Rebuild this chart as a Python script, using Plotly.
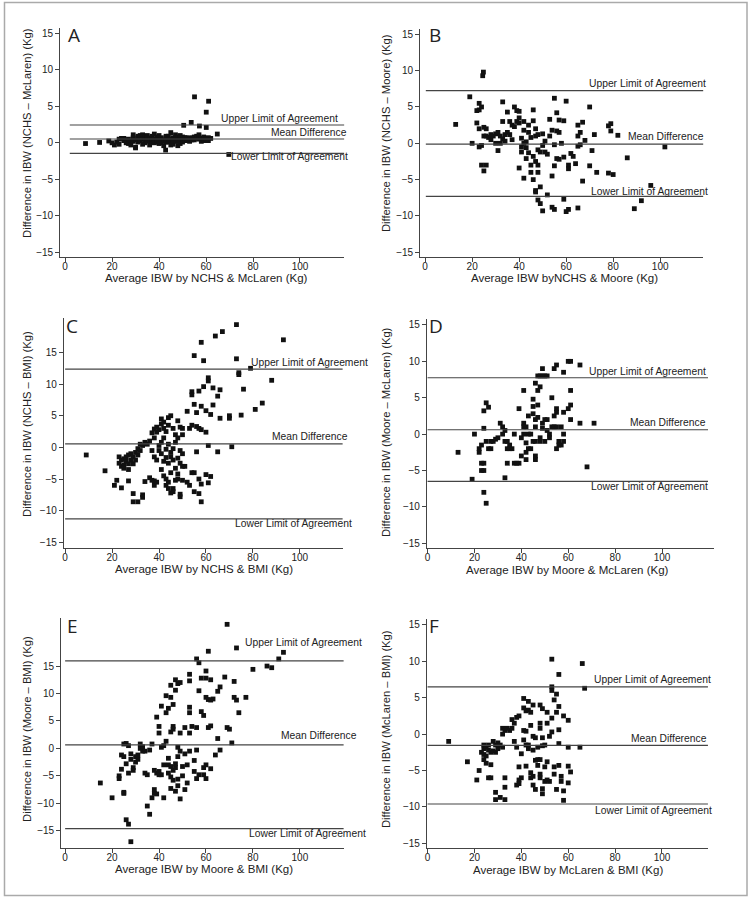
import plotly.graph_objects as go

# ---------------- data ----------------
a_pts = [(8.7,-0.1),(14.7,0.05),(18.6,0.25),(20,0.0),(21,-0.3),(22,0.1),(23,0.5),(23,-0.2),(24,0.6),(25,0.3),(25,0.6),(26,0.4),(26,0.0),
         (27,-0.1),(27,0.5),(28,0.2),(28,-0.3),(29,1.1),(29,0.7),(29,0.2),(30,-0.6),(30,0.4),(30,-0.7),(31,0.9),(31,0.1),(31,0.6),
         (32,1.0),(32,0.3),(33,1.1),(33,0.5),(33,-0.2),(34,0.0),(34,0.8),(34,0.4),(35,1.0),(35,0.3),(35,0.7),(36,0.6),(36,-0.3),(36,0.2),
         (37,0.9),(37,0.2),(37,0.5),(38,1.2),(38,0.5),(38,0.0),(39,0.1),(39,0.8),(39,0.4),(40,1.0),(40,0.4),(40,-0.1),(41,0.7),(41,0.0),
         (41,0.4),(42,0.3),(42,-0.4),(42.8,-1.0),(43,0.5),(43,0.1),(43,0.9),(44,0.1),(44,0.9),(44,0.5),(45,1.4),(45,0.3),(45,-0.3),
         (46,-0.2),(46,0.7),(46,0.3),(47,1.1),(47,0.2),(47,0.6),(48,-0.4),(48,0.8),(48,0.2),(49,0.4),(49,1.0),(49,-0.1),(50,0.5),(50,0.1),
         (50,0.8),(51,0.7),(51,0.3),(52,0.3),(52,0.7),(53,0.6),(53,0.2),(54,0.4),(54,0.7),(55,0.8),(55,0.4),(56,0.9),(56,0.6),(57,1.1),
         (57,0.5),(58,0.2),(58,0.6),(59,0.8),(59,0.3),(60,0.5),(61,0.7),(61,0.3),(62,0.6),
         (55.1,6.3),(61.1,5.7),(60.1,4.2),(53.7,2.8),(50.5,2.4),(57.2,2.3),(60.1,2.1),(64.8,1.2),(69.7,-1.6)]

b_pts = [(13,2.6),(19,6.4),(20,0.0),(22,2.8),(22,4.5),(23,5.5),(23,4.6),(23,2.0),(24,5.0),(23,-0.5),(24,-0.3),(24.5,9.3),(24.8,9.8),
         (24,-3.0),(25,-3.8),(26,-3.0),(25,1.0),(25,2.2),(26,2.0),(26,1.0),(27,0.8),(28,1.2),(28,0.5),(29,1.0),(30,0.0),(30,1.3),
         (31,-1.0),(31,1.5),(32,0.0),(32,1.0),(33,5.7),(33,3.0),(33,0.6),(34,1.2),(34,0.3),(35,4.3),(35,1.5),(36,3.0),(36,1.2),
         (37,2.5),(37,0.5),(38,5.0),(38,2.3),(39,3.0),(39,4.5),(40,4.4),(40,3.5),(40,2.8),(40,-3.4),(41,0.7),(41,-0.5),(41,-1.2),
         (42,0.0),(42,-4.8),(42,1.8),(42,3.0),(43,0.2),(43,-0.6),(43,-2.1),(44,2.5),(44,1.5),(44,-1.3),(45,0.8),(45,-3.0),(45,-4.0),
         (46,3.1),(46,4.6),(46,-1.8),(46,-5.0),(47,1.0),(47,-2.5),(47,-6.5),(47,-6.7),(47,2.0),(48,-3.0),(48,-4.0),(48,1.2),(48,-0.9),
         (48,-7.8),(49,-6.0),(49,-8.3),(49,-1.2),(50,-9.3),(50,1.3),(50,-0.3),(51,-1.2),(51,0.3),(52,-1.5),(52,-7.1),(53,3.3),(53,1.0),
         (54,-4.5),(54,1.8),(54,-8.8),(55,6.2),(55,-0.2),(55,-9.1),(55,-3.1),(56,4.2),(56,-2.1),(56,1.7),(57,3.2),(57,-2.2),(57,1.5),
         (58,0.0),(59,-7.7),(59,-1.9),(59,3.1),(60,-9.4),(60,5.8),(61,-3.0),(61,-3.5),(61,-9.1),(62,-1.4),(63,-1.8),(64,-2.8),(65,2.5),
         (65,1.0),(65,-0.4),(65,-8.9),(66,1.5),(66,-0.2),(67,2.9),(67,-5.2),(68,0.4),(70,5.0),(70,-3.1),(71,-1.0),(72,1.2),(73,-4.0),
         (78,2.4),(78,-4.1),(79,2.7),(79,1.7),(80,-4.3),(82,1.1),(86,-2.0),(89,-9.0),(92,-7.9),(96,-5.8),(102,-0.5)]

c_pts = [(9,-1.2),(17,-3.7),(21,-6.0),(22,-5.2),(24,-6.4),(27,-5.3),(29,-8.6),(31,-8.6),(29,-7.3),(33,-7.5),(33,-7.9),(34,-5.4),
         (23,-1.5),(23,-2.5),(24,-2.0),(24,-3.0),(25,-1.8),(25,-2.8),(25,-3.3),(26,-2.2),(26,-1.5),(27,-2.6),(27,-3.5),(27,-1.2),
         (28,-2.0),(28,-1.0),(29,-2.6),(29,-1.5),(30,-0.8),(30,-2.0),(31,-0.2),(31,-1.2),(32,0.5),(32,-0.5),(33,0.3),(34,0.8),(35,0.5),
         (36,1.0),(37,2.3),(37,-0.5),(38,2.9),(38,1.5),(39,3.2),(39,2.4),(40,2.8),(41,4.5),(41,3.7),(42,4.0),(42,3.0),(43,2.5),(44,4.7),
         (44,3.5),(45,5.0),(46,3.0),(47,2.0),
         (38,-1.5),(39,-2.0),(40,-0.5),(40,0.3),(41,-1.0),(41,0.8),(42,-2.2),(42,1.5),(43,-0.3),(43,-1.6),(44,0.5),(44,-2.5),(45,-0.8),
         (45,-1.5),(46,-2.0),(46,-0.2),(47,-3.3),(47,0.8),(48,-1.7),(48,1.5),(49,-2.5),(49,-0.5),(50,-1.0),(50,-3.0),(51,-3.0),
         (36,-4.8),(37,-5.2),(38,-6.0),(38,-5.3),(39,-5.5),(41,-3.5),(42,-4.5),(43,-5.0),(43,-6.0),(44,-6.5),(44,-5.5),(45,-7.2),
         (45,-4.0),(46,-7.0),(46,-6.5),(47,-5.2),(48,-4.2),(48,-5.0),(49,-7.8),(49,-7.4),(50,-5.2),(52,-5.5),(53,-6.0),(54,-4.0),
         (55,-7.0),(55,-4.0),(57,-5.0),(57,-7.3),(58,-8.6),(58,-5.8),(60,-4.3),(61,-5.6),(62,-4.6),
         (48,4.2),(49,3.2),(50,3.0),(50,2.0),(52,5.7),(53,3.0),(54,3.5),(54,8.8),(54,8.3),(55,6.8),(55,14.5),(56,3.3),(56,5.5),
         (56,-0.7),(57,8.9),(57,3.0),(58,16.6),(58,6.5),(58,2.8),(59,9.6),(59,13.7),(60,5.8),(60,2.4),(61,11.0),(61,10.5),(61,0.3),
         (62,5.2),(63,9.4),(63,6.7),(64,17.6),(65,8.1),(65,-0.7),(66,9.1),(66,4.6),(67,18.3),(70,5.0),(70,4.6),(71,0.1),(73,19.4),
         (73,14.0),(74,11.8),(74,11.5),(75,5.1),(76,9.2),(79,12.5),(81,6.0),(84,7.0),(88,10.6),(93,17.0)]

d_pts = [(13,-2.5),(19,-6.2),(20,0),(22,-2.5),(22,-2),(23,-1.5),(23,-4),(23,-5),(24,-4),(24,-5),(24,0.8),(24,-8),(25,-9.5),(24,3.2),
         (25,4.3),(26,3.7),(25,-1),(26,-2),(27,-2),(27,-1),(28,-1),(29,-0.7),(30,-0.5),(31,1.5),(32,1),(32,0),(33,-1),(33,0.5),(33,-6),
         (34,-2),(34,-1),(34,-4),(35,-1.5),(35,-2),(36,-2),(37,-4),(37,0),(38,-4),(39,-4),(39,3.5),(40,-3),(40,-0.5),(41,6),(41,1.5),
         (41,1),(41,0),(42,-1.2),(42,-2.5),(42,-3.5),(42,1),(43,2.5),(43,0),(43,-2),(44,0),(44,-2),(45,3.8),(45,2.8),(45,-1),(45,4.8),
         (46,7),(46,2),(46,1),(46,-3.5),(46,-3),(46,-1),(47,6),(47,8),(47,4),(47,2.3),(48,6.5),(48,8),(48,-0.5),(48,-1),(49,9),(49,8),
         (49,1.5),(49,0.8),(50,8),(50,2),(50,-1),(51,8),(51,2),(51,0.5),(52,0),(52,-0.5),(53,1),(53,5),(54,1),(54,9),(54,2.5),(55,9.5),
         (55,3.5),(55,3),(55,1),(55,-2),(56,-1),(56,-1.5),(57,1),(57,-1.5),(58,8.5),(58,3),(58,0),(58,-1),(60,10),(60,3.5),(61,10),
         (61,6),(61,4),(61,2),(65,9.5),(65,1.5),(68,-4.5),(71,1.5)]

e_pts = [(15,-6.3),(20,-9),(23,-5),(23,-5.5),(24,-3.8),(24,-1.2),(25,-1.5),(25,0.8),(25,-8),(25,-8.2),(26,-2.8),(26,0.9),(26,-13),
         (27,-4.5),(27,0.5),(27,-13.8),(28,-1),(28,-17),(28,-2),(29,-3.5),(29,-4),(30,-1.5),(30,-2.5),(31,-2),(31,-1.2),(32,0.8),(32,0),
         (33,-0.5),(33,0.3),(34,-4.5),(34,-0.5),(35,-4.8),(35,-10.5),(36,-12),(36,-0.3),(37,0.8),(37,-9),(38,-4),(38,-7.5),(38,-8.2),
         (39,5.7),(39,-4.5),(39,-8.3),(40,4),(40,2.8),(40,-4.2),(40,-4.8),(41,7.7),(41,0.2),(41,-4.8),(42,0.5),(42,-9),(42,-3),(43,1.3),
         (43,9.6),(43,6.5),(44,7.3),(44,-1.8),(44,-4.5),(44,-3),(45,9.3),(45,11.5),(45,-3.3),(45,-7.3),(45,-5.2),(45,3),(46,4),(46,-5.8),
         (46,-4),(46,8),(46,3.5),(47,12.5),(47,10.6),(47,-3.5),(47,-2.8),(47,-7.8),(48,11.8),(48,-5.6),(48,-6.8),(48,0.2),(48,-1.5),
         (49,12),(49,2.8),(49,-9.2),(49,-0.5),(50,-3.3),(50,-5),(51,3.8),(51,-1),(51,-7.5),(52,-3),(52,-6.3),(53,12.3),(53,13.5),
         (53,7.5),(53,-0.5),(53,6.5),(53,2.8),(54,4),(55,-4.2),(55,-2.2),(56,16.3),(56,-0.3),(56,3.8),(56,-5.5),(57,15.6),(57,10.5),
         (57,-4.8),(58,6.7),(58,12.8),(59,-3.5),(59,-4.8),(59,6),(60,14.1),(60,12.8),(60,9.3),(60,-5.5),(60,-3),(61,8.9),(61,3.8),
         (61,17.7),(62,12.5),(62,4.1),(62,-3.7),(62,8.8),(63,9),(64,-1.2),(65,10.4),(65,1.8),(66,11.2),(66,-0.3),(68,13),(69,22.6),
         (69,3.8),(70,3.5),(71,1),(72,12.2),(72,9.3),(73,8.8),(73,18.3),(74,6.5),(77,9.3),(80,14.4),(86,15),(88,14.7),(91,16.3),(93,17.5)]

f_pts = [(9,-1),(17,-3.8),(21,-6.3),(22,-5),(23,-2.5),(24,-1.5),(24,-2),(24,-2.8),(24,-3.5),(25,-1.8),(25,-3),(25,-4),(26,-6),
         (26,-2.2),(26,-1.5),(27,-2.5),(27,-4.2),(27,-6),(28,-1),(28,-2.3),(29,-9),(29,-8),(29,-1.5),(29,-2.5),(30,-1.2),(30,-2),
         (31,-8.7),(31,-1.5),(32,-1.8),(32,0.8),(32,0),(33,-6),(33,-7.3),(33,-9),(33,0.5),(34,0.8),(35,0.5),(36,2),(36,0.8),(37,-1),
         (37,1.5),(38,2.3),(38,-1.8),(38,-7),(39,-4.5),(39,-6.3),(39,-6.8),(39,2.5),(40,-2.7),(40,-6),(41,4.9),(41,3.6),(41,0.5),
         (41,-0.8),(42,3.2),(42,0.4),(42,-1.5),(42,-4.4),(43,4.5),(43,3.3),(43,-1.5),(43,-2),(44,3),(44,1.2),(44,-5.3),(44,-6),(45,4),
         (45,-0.3),(45,-2.2),(45,-5.8),(45,-7),(46,-0.5),(46,-3.6),(46,-7.6),(47,-1.8),(47,-3.5),(47,-4.3),(48,4),(48,1.5),(48,0.8),
         (48,-3.5),(48,-5.5),(48,-6),(49,3.5),(49,-1.6),(49,-0.5),(49,-7.5),(49,-8.2),(50,-1.5),(50,-4.5),(50,-6.5),(51,3),(51,1.5),
         (51,-3.8),(51,-6.3),(52,-0.3),(52,-6.5),(53,10.3),(53,6.5),(53,6),(53,2.2),(53,0.3),(54,4.7),(54,-4.5),(54,-5.5),(55,5.5),
         (55,3),(55,-7.6),(56,8.2),(56,3.8),(56,0.6),(56,-1.3),(56,-4.3),(57,-5.8),(57,-6.5),(58,2.5),(58,-7.8),(58,-9.1),(60,1.9),
         (60,-1.8),(60,-4.4),(60,-6.7),(61,-5.2),(65,-1.8),(66,9.7),(67,6.3)]

# limits: (upper, mean, lower)
a_lim = (2.44, 0.52, -1.44)
b_lim = (7.25, -0.1, -7.3)
c_lim = (12.36, 0.55, -11.3)
d_lim = (7.75, 0.6, -6.5)
e_lim = (15.95, 0.65, -14.6)
f_lim = (6.5, -1.55, -9.6)

panel_letters = ["A", "B", "C", "D", "E", "F"]
x_titles = ["Average IBW by NCHS & McLaren (Kg)", "Average IBW byNCHS & Moore (Kg)",
            "Average IBW by NCHS & BMI (Kg)", "Average IBW by Moore & McLaren (Kg)",
            "Average IBW by Moore & BMI (Kg)", "Average IBW by McLaren & BMI (Kg)"]
y_titles = ["Difference in IBW (NCHS – McLaren) (Kg)", "Difference in IBW (NCHS – Moore) (Kg)",
            "Difference in IBW (NCHS – BMI) (Kg)", "Difference in IBW (Moore – McLaren) (Kg)",
            "Difference in IBW (Moore – BMI) (Kg)", "Difference in IBW (McLaren – BMI) (Kg)"]
limit_labels = ["Upper Limit of Agreement", "Mean Difference", "Lower Limit of Agreement"]
x_ticks = [0, 20, 40, 60, 80, 100]
y_ticks = [-15, -10, -5, 0, 5, 10, 15]

# ---------------- layout geometry (pixels) ----------------
W, H = 750, 900
FONT = "Liberation Sans, Arial, Helvetica, sans-serif"

panels = [
    dict(pts=a_pts, lim=a_lim, xpx=(58.3, 343.3), xr=(-2.1, 118.9), ypx=(28.3, 257.3), yr=(-15.7, 15.7), line_x0=2.0,
         ann=[(339, 6.7), (348, 6.3), (349, -3.4)], xt=(205, 278), yt=(25, 133), let=(64, 35)),
    dict(pts=b_pts, lim=b_lim, xpx=(419.3, 703.3), xr=(-2.1, 118.4), ypx=(29.3, 257.3), yr=(-15.69, 15.69), line_x0=0.3,
         ann=[(708, 7.4), (706, 7.3), (710, 5.3)], xt=(564, 278), yt=(385, 133), let=(426, 35)),
    dict(pts=c_pts, lim=c_lim, xpx=(62.0, 341.7), xr=(-0.55, 118.3), ypx=(318.3, 548.3), yr=(-15.95, 20.4), line_x0=0.0,
         ann=[(369, 7.0), (349, 7.3), (353, -5.0)], xt=(203, 569), yt=(25, 424), let=(62, 326)),
    dict(pts=d_pts, lim=d_lim, xpx=(426.0, 714.0), xr=(-0.3, 122.2), ypx=(319.0, 548.3), yr=(-15.69, 15.82), line_x0=0.0,
         ann=[(708, 6.3), (708, 7.7), (710, -5.0)], xt=(567, 570), yt=(385, 432), let=(426, 326)),
    dict(pts=e_pts, lim=e_lim, xpx=(59.3, 342.7), xr=(-1.7, 118.7), ypx=(618.3, 848.3), yr=(-18.2, 23.7), line_x0=0.0,
         ann=[(362.7, 18.3), (358.3, 9.0), (366.7, -4.6)], xt=(203, 869), yt=(25, 729), let=(63, 626)),
    dict(pts=f_pts, lim=f_lim, xpx=(426.0, 708.3), xr=(-0.3, 119.8), ypx=(619.0, 848.3), yr=(-15.69, 15.82), line_x0=0.0,
         ann=[(712.7, 7.4), (709.3, 7.0), (714, -6.7)], xt=(568, 870), yt=(385, 729), let=(426, 626)),
]

fig = go.Figure()
layout = dict(width=W, height=H, margin=dict(l=0, r=0, t=0, b=0), paper_bgcolor="white", plot_bgcolor="white",
              showlegend=False, font=dict(family=FONT, color="#222", size=10))
annotations = []
shapes = []

axis_common = dict(showline=True, linecolor="#444", linewidth=1, ticks="outside", ticklen=4, tickwidth=1,
                   tickcolor="#444", showgrid=False, zeroline=False, tickfont=dict(family=FONT, size=10, color="#222"))

for i, p in enumerate(panels):
    n = "" if i == 0 else str(i + 1)
    xs = [q[0] for q in p["pts"]]
    ys = [q[1] for q in p["pts"]]
    fig.add_trace(go.Scatter(x=xs, y=ys, mode="markers", xaxis="x" + n, yaxis="y" + n,
                             marker=dict(symbol="square", size=4.8, color="#111", line=dict(width=0)),
                             cliponaxis=False, hoverinfo="x+y"))
    layout["xaxis" + n] = dict(axis_common, domain=[p["xpx"][0] / W, p["xpx"][1] / W], range=list(p["xr"]),
                               anchor="y" + n, tickvals=x_ticks, ticklabelstandoff=-4)
    layout["yaxis" + n] = dict(axis_common, domain=[1 - p["ypx"][1] / H, 1 - p["ypx"][0] / H], range=list(p["yr"]),
                               anchor="x" + n, tickvals=y_ticks)
    x1 = min(119.6, p["xr"][1])
    for k, val in enumerate(p["lim"]):
        shapes.append(dict(type="line", xref="x" + n, yref="y" + n, x0=p["line_x0"], x1=x1, y0=val, y1=val,
                           line=dict(color="#444", width=1.2)))
        rx, off = p["ann"][k]
        annotations.append(dict(text=limit_labels[k], xref="paper", yref="y" + n, x=rx / W, y=val,
                                xanchor="right", yanchor="middle", yshift=off, showarrow=False,
                                font=dict(family=FONT, size=10.3, color="#222")))
    # axis titles
    annotations.append(dict(text=x_titles[i], xref="paper", yref="paper", x=p["xt"][0] / W, y=1 - p["xt"][1] / H,
                            xanchor="center", yanchor="middle", showarrow=False,
                            font=dict(family=FONT, size=11.5, color="#222")))
    annotations.append(dict(text=y_titles[i], xref="paper", yref="paper", x=p["yt"][0] / W, y=1 - p["yt"][1] / H,
                            xanchor="center", yanchor="middle", textangle=-90, showarrow=False,
                            font=dict(family=FONT, size=11.2, color="#222")))
    annotations.append(dict(text=panel_letters[i], xref="paper", yref="paper", x=p["let"][0] / W, y=1 - p["let"][1] / H,
                            xanchor="left", yanchor="middle", showarrow=False,
                            font=dict(family="Open Sans, Noto Sans, sans-serif", size=19, color="#222")))

shapes.append(dict(type="rect", xref="paper", yref="paper", x0=2.5 / W, x1=747 / W, y0=1 - 895.5 / H, y1=1 - 2.5 / H,
                   line=dict(color="#aaa", width=1.5), layer="below"))
layout["annotations"] = annotations
layout["shapes"] = shapes
fig.update_layout(**layout)
fig.write_html("out.html", config={"displayModeBar": False},
               post_script="document.body.style.margin='0';document.body.style.overflow='hidden';")
